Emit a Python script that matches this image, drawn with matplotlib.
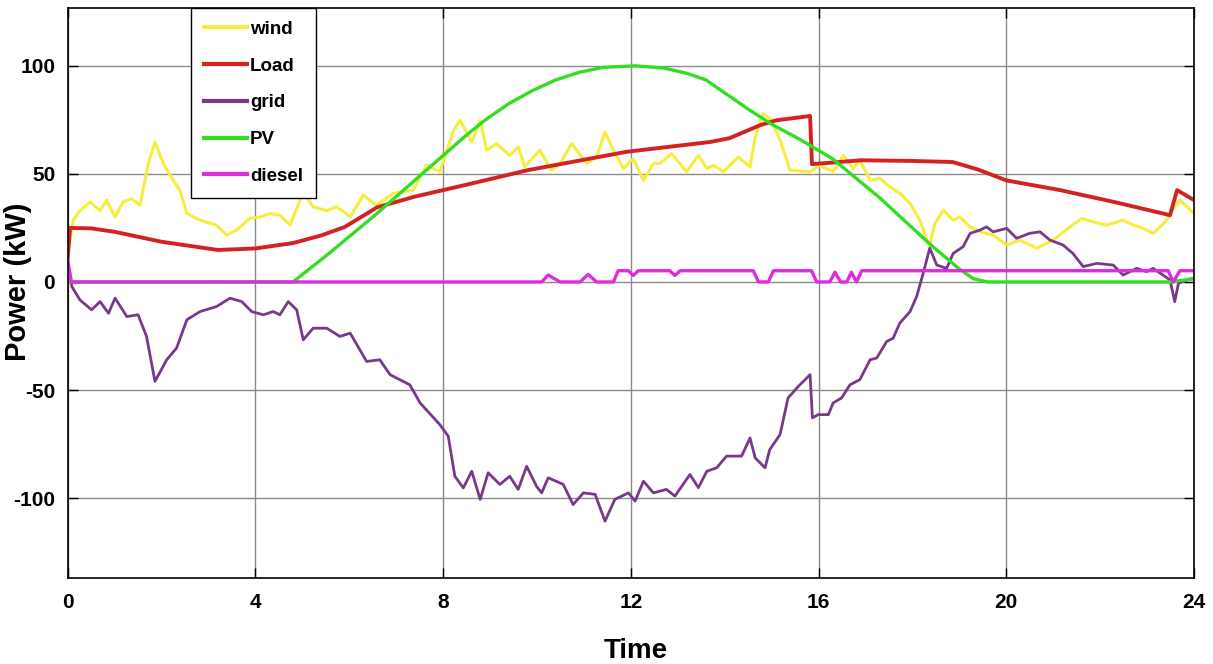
import matplotlib
matplotlib.use("Agg")
import matplotlib.pyplot as plt
from matplotlib import font_manager

# --- data (time in h, power in kW) ---
wind_t = [0, 0.12, 0.26, 0.48, 0.69, 0.83, 1.01, 1.18, 1.36, 1.54, 1.72, 1.86, 2.04, 2.25, 2.39, 2.54,
          2.82, 3.17, 3.39, 3.6, 3.88, 4.1, 4.31, 4.52, 4.74, 5.02, 5.23, 5.52, 5.73, 6.02, 6.3, 6.58,
          6.94, 7.36, 7.65, 7.93, 8.22, 8.36, 8.61, 8.79, 8.93, 9.14, 9.42, 9.6, 9.74, 10.06, 10.31,
          10.49, 10.74, 11.06, 11.27, 11.45, 11.63, 11.84, 12.05, 12.27, 12.48, 12.62, 12.87, 13.19,
          13.44, 13.62, 13.76, 13.97, 14.29, 14.54, 14.65, 14.82, 15.0, 15.21, 15.39, 15.82, 16.03,
          16.31, 16.53, 16.74, 16.88, 17.1, 17.31, 17.52, 17.74, 17.95, 18.16, 18.36, 18.48, 18.66,
          18.87, 19.01, 19.23, 19.44, 19.72, 20.01, 20.29, 20.65, 21.0, 21.36, 21.61, 21.85, 22.14,
          22.49, 22.71, 22.92, 23.13, 23.4, 23.56, 23.7, 24]
wind_p = [13, 28.6, 33, 37, 33, 37.9, 30, 37, 38.6, 35.5, 54.8, 64.8, 54.8, 47, 42.5, 31.7,
          28.6, 26.3, 21.7, 24, 29.4, 30.1, 31.7, 30.9, 26.3, 41.7, 34.8, 33, 34.8, 30.1, 40.2, 35.5,
          41, 42.5, 54, 51, 70, 74.8, 64.8, 74.8, 61, 64, 58.6, 62.5, 53.2, 61, 51.7,
          54.8, 64, 54.8, 57.8, 69.4, 61, 52.5, 57.1, 47, 54.8, 54.8, 59.4, 51,
          58.6, 52.5, 54, 51, 57.8, 53.2, 67, 77.9, 74.8, 64, 51.7, 51, 54,
          51, 58.6, 52.5, 56.3, 47, 47.9, 44, 41, 36.3, 28.6, 16.5, 27.1, 33.2,
          28.6, 30.1, 25.5, 23.2, 21.7, 17.1, 19.4, 15.6, 19.4, 25.5, 29.4, 27.8, 26.3,
          28.6, 26.3, 24.8, 22.5, 28, 34, 37.9, 31.7]

load_t = [0, 0.05, 0.5, 1.0, 2.0, 3.2, 4.0, 4.8, 5.4, 5.9, 6.6, 7.4, 8.4, 9.8, 11.9, 13.7, 14.1,
          14.75, 15.1, 15.82, 15.86, 16.9, 18.0, 18.86, 19.4, 20.0, 21.15, 22.3, 23.49, 23.64, 24]
load_p = [11, 25, 24.8, 23.2, 18.6, 14.8, 15.5, 18, 21.5, 25.4, 34.6, 39.5, 44.5, 51.7, 60.2, 64.8,
          66.5, 72.5, 74.8, 76.8, 54.5, 56.3, 56, 55.5, 52, 47, 42.5, 37, 30.9, 42.5, 37.9]

grid_t = [0, 0.09, 0.26, 0.51, 0.69, 0.87, 1.01, 1.26, 1.5, 1.68, 1.86, 2.11, 2.32, 2.54, 2.82, 3.17,
          3.46, 3.71, 3.92, 4.17, 4.38, 4.52, 4.7, 4.88, 5.02, 5.23, 5.52, 5.8, 6.02, 6.37, 6.65, 6.87,
          7.29, 7.51, 7.93, 8.11, 8.25, 8.43, 8.61, 8.79, 8.96, 9.21, 9.42, 9.6, 9.78, 9.99, 10.1,
          10.24, 10.56, 10.77, 10.99, 11.24, 11.45, 11.66, 11.95, 12.09, 12.27, 12.48, 12.76, 12.94,
          13.26, 13.44, 13.62, 13.83, 14.04, 14.36, 14.54, 14.65, 14.86, 14.96, 15.18, 15.35, 15.57,
          15.82, 15.87, 15.99, 16.21, 16.31, 16.49, 16.67, 16.88, 17.1, 17.24, 17.45, 17.59, 17.73,
          17.95, 18.09, 18.23, 18.37, 18.52, 18.73, 18.87, 19.08, 19.23, 19.44, 19.58, 19.72, 20.01,
          20.22, 20.5, 20.72, 20.93, 21.21, 21.42, 21.64, 21.93, 22.28, 22.49, 22.78, 22.99, 23.13,
          23.34, 23.49, 23.59, 23.67, 23.85, 24]
grid_p = [9, -2.2, -8.3, -12.9, -9.1, -14.5, -7.5, -16, -15.2, -25.2, -46, -36, -30.6, -17.5, -13.7,
          -11.4, -7.5, -9.1, -13.7, -15.2, -13.7, -15.2, -9.1, -12.9, -26.8, -21.4, -21.4, -25.2,
          -23.7, -36.8, -36, -42.9, -47.6, -56, -66, -71.4, -89.9, -95.3, -87.6, -100.6, -88.3,
          -93.7, -89.9, -96, -85.3, -94.5, -97.6, -90.6, -93.7, -103, -97.6, -98.3, -110.7, -100.6,
          -97.6, -101.4, -92.2, -97.6, -96, -99.1, -89.1, -95.2, -87.6, -86, -80.6, -80.6, -72.2,
          -81.4, -86, -77.6, -70.6, -53.7, -48.3, -42.9, -62.9, -61.4, -61.4, -56, -53.7, -47.6,
          -45.2, -36, -35.2, -27.6, -26, -19.1, -13.7, -6.8, 4, 15.6, 7.8, 6.3, 13.2, 16.3, 22.5,
          24, 25.5, 23.2, 24.8, 20.2, 22.5, 23.2, 19.4, 17.1, 13.2, 7.1, 8.6, 7.8, 3.2, 6.3, 4.8,
          6.3, 3.2, 0.9, -9.1, -0.6, 0.9, 1.7]

pv_t = [0, 4.8, 5.5, 6.5, 7.5, 8.5, 8.9, 9.4, 9.9, 10.4, 10.9, 11.4, 12.1, 12.7, 13.2, 13.6,
        14.0, 14.5, 15.0, 15.6, 16.3, 17.3, 18.4, 19.0, 19.3, 19.6, 23.5, 24]
pv_p = [0, 0, 12, 30, 49, 68, 75, 82.5, 88.5, 93.5, 97, 99.3, 100, 99, 96.5, 93.5,
        87.5, 80, 73, 66, 57, 39, 17, 6, 1.5, 0, 0, 1.5]

diesel_t = [0, 0.08, 10.1, 10.24, 10.49, 10.92, 11.09, 11.27, 11.63, 11.73, 11.95, 12.05, 12.16,
            12.83, 12.94, 13.05, 14.61, 14.72, 14.93, 15.04, 15.85, 15.96, 16.24, 16.35, 16.47,
            16.6, 16.7, 16.81, 16.92, 23.45, 23.56, 23.7, 24]
diesel_p = [10, 0, 0, 3.2, 0, 0, 3.5, 0, 0, 5.2, 5.2, 3, 5.2,
            5.2, 3, 5.2, 5.2, 0, 0, 5.2, 5.2, 0, 0, 4.5, 0,
            0, 4.5, 0, 5.2, 5.2, 0, 5.2, 5.2]

names = ["wind", "Load", "grid", "PV", "diesel"]
colors = ["#F4EE3E", "#D42222", "#763A88", "#33DD22", "#E02AE0"]
widths = [2.2, 2.8, 2.0, 2.4, 2.4]

plt.rcParams["axes.unicode_minus"] = False
installed = {f.name for f in font_manager.fontManager.ttflist}
narrow = "Liberation Sans Narrow" if "Liberation Sans Narrow" in installed else "Liberation Sans"

fig = plt.figure(figsize=(12.13, 6.64), dpi=100)
ax = fig.add_axes([0.0558, 0.1295, 0.9285, 0.8592])

series = [(wind_t, wind_p), (load_t, load_p), (grid_t, grid_p), (pv_t, pv_p), (diesel_t, diesel_p)]
for (t, p), n, c, w in zip(series, names, colors, widths):
    ax.plot(t, p, color=c, lw=w, label=n, solid_joinstyle="round")

ax.set_xlim(0, 24)
ax.set_ylim(-137, 127)
ax.set_xticks(range(0, 25, 4))
ax.set_yticks([-100, -50, 0, 50, 100])
ax.grid(True, color="#8a8a8a", lw=1.0)
ax.set_axisbelow(True)
ax.tick_params(direction="in", length=7, width=1, top=True, right=True, pad=11,
               labelsize=15)
ax.tick_params(axis="y", pad=9)
for lab in ax.get_xticklabels() + ax.get_yticklabels():
    lab.set_fontfamily("Liberation Sans")
    lab.set_fontweight("bold")
for s in ax.spines.values():
    s.set_linewidth(1.2)

ax.set_xlabel("Time", fontsize=20, fontweight="bold", family=narrow)
ax.xaxis.set_label_coords(0.504, -0.105)
ax.set_ylabel("Power (kW)", fontsize=21, fontweight="bold", family=narrow)
ax.yaxis.set_label_coords(-0.032, 0.52)

leg = ax.legend(loc="upper left", bbox_to_anchor=(0.1095, 1.0), borderaxespad=0,
                fancybox=False, framealpha=1, edgecolor="black", handlelength=2.3,
                handletextpad=0.15, labelspacing=1.05, borderpad=0.7,
                prop={"family": narrow, "weight": "bold", "size": 13.5})
leg.get_frame().set_linewidth(1.0)
for line in leg.get_lines():
    line.set_linewidth(3)

fig.savefig("out.png", dpi=100)
